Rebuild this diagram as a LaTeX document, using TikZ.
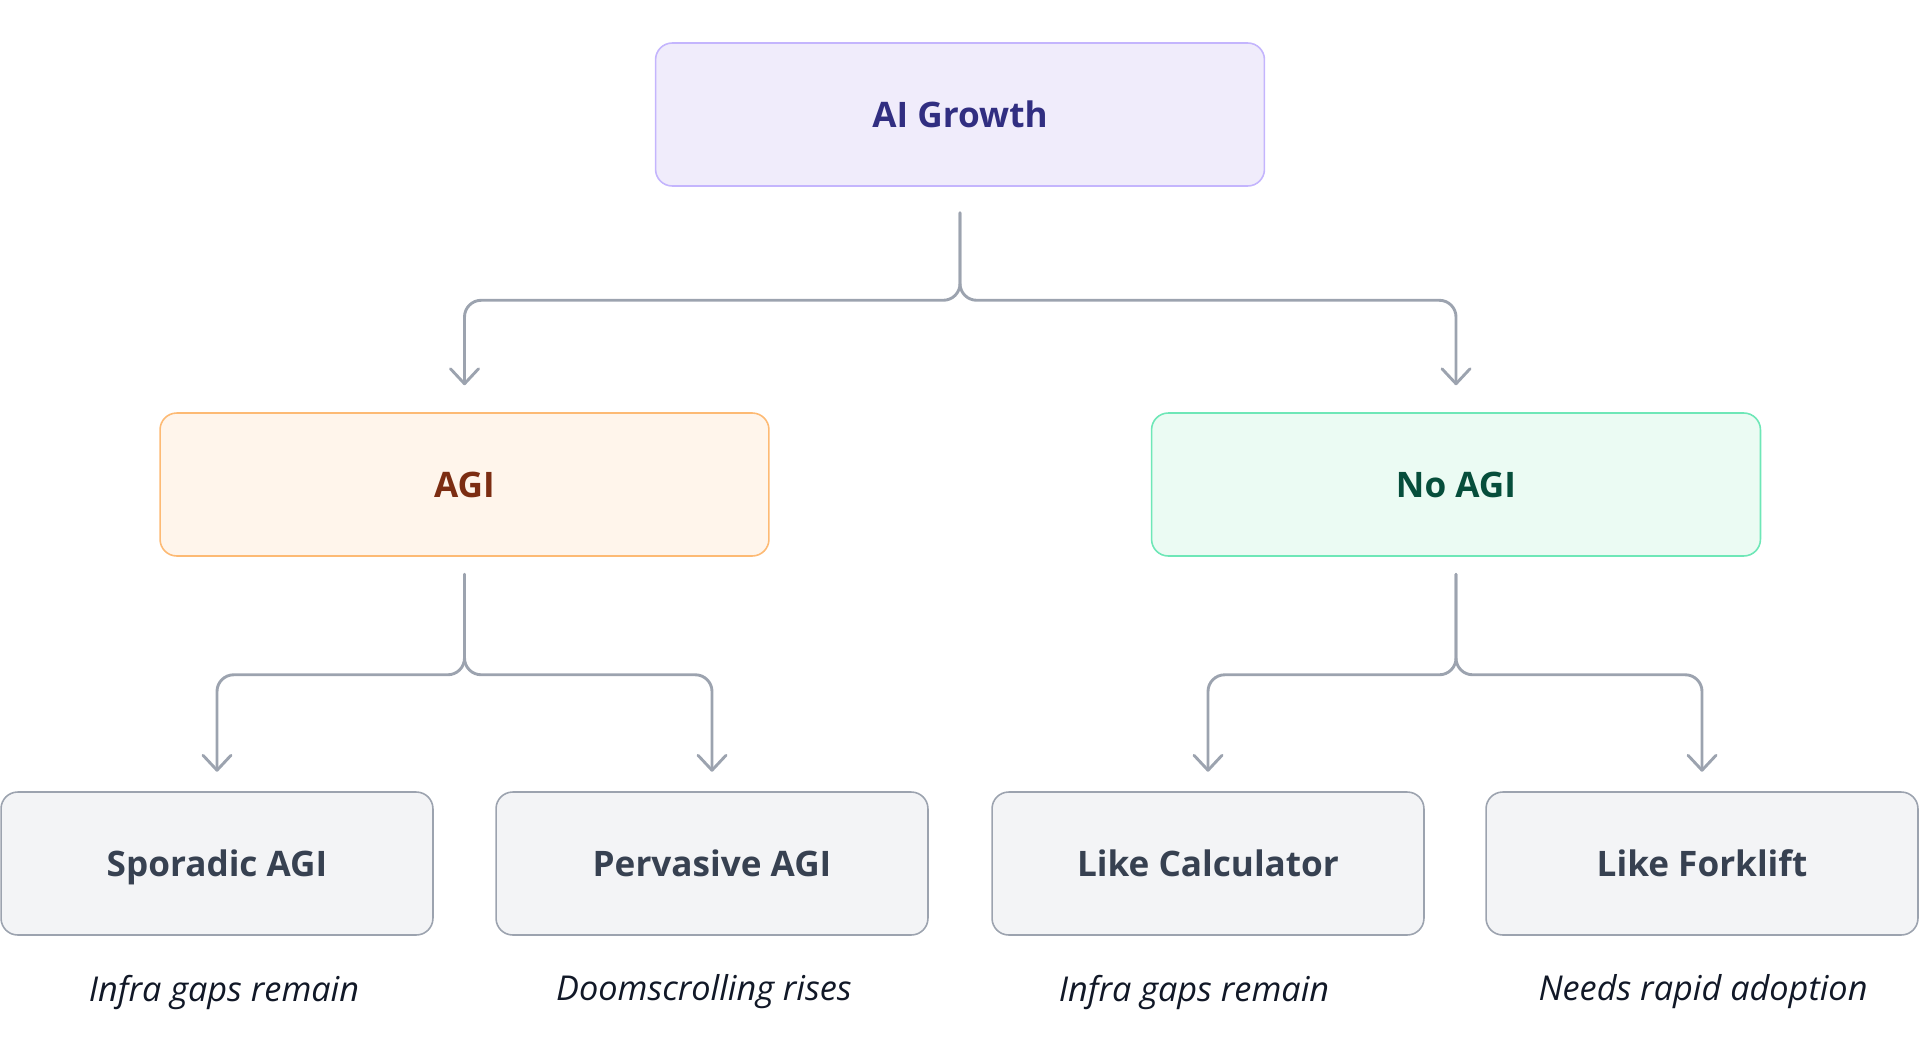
\documentclass[tikz,border=0pt]{standalone}
\usepackage{fontspec}
\setmainfont{Open Sans}
\usetikzlibrary{arrows.meta}

\definecolor{violetfill}{HTML}{F0ECFB}
\definecolor{violetline}{HTML}{C4B5FD}
\definecolor{violettext}{HTML}{312E81}
\definecolor{orangefill}{HTML}{FFF5EB}
\definecolor{orangeline}{HTML}{FDBA74}
\definecolor{orangetext}{HTML}{7C2D12}
\definecolor{greenfill}{HTML}{EBFBF3}
\definecolor{greenline}{HTML}{6EE7B7}
\definecolor{greentext}{HTML}{064E3B}
\definecolor{grayfill}{HTML}{F3F4F6}
\definecolor{grayline}{HTML}{9CA3AF}
\definecolor{graytext}{HTML}{374151}
\definecolor{notetext}{HTML}{111827}

\tikzset{
  box/.style={draw, rounded corners=9.5pt, line width=0.9pt,
    minimum width=12.18cm, minimum height=2.86cm,
    text height=14.3pt, text depth=0pt,
    font=\fontsize{20}{24}\selectfont\bfseries},
  topbox/.style={box, fill=violetfill, draw=violetline, text=violettext},
  agibox/.style={box, fill=orangefill, draw=orangeline, text=orangetext},
  noagibox/.style={box, fill=greenfill, draw=greenline, text=greentext},
  leafbox/.style={box, fill=grayfill, draw=grayline, text=graytext,
    minimum width=8.64cm},
  note/.style={text=notetext, font=\fontsize{19.5}{23}\selectfont\itshape},
  link/.style={draw=grayline, line width=1.65pt, rounded corners=9.5pt,
    line cap=round, -{Straight Barb[length=0.3cm,width=0.56cm,round]}}
}

\begin{document}
\begin{tikzpicture}[
  x=0.02cm,
  y=-0.02cm,
  line join=round
]
  \useasboundingbox (0,0) rectangle (1920,1058);

  % Root
  \node[topbox] (growth) at (960,114.5) {AI Growth};

  % Two branches
  \node[agibox] (agi) at (464.5,484.5) {AGI};
  \node[noagibox] (noagi) at (1456,484.5) {No AGI};

  % Leaves
  \node[leafbox] (sporadic) at (217,863.5) {Sporadic AGI};
  \node[leafbox] (pervasive) at (712,863.5) {Pervasive AGI};
  \node[leafbox] (calculator) at (1208,863.5) {Like Calculator};
  \node[leafbox] (forklift) at (1702,863.5) {Like Forklift};

  % Notes under the leaves
  \node[note] (sporadicnote) at (224,992) {Infra gaps remain};
  \node[note] (pervasivenote) at (704,992) {Doomscrolling rises};
  \node[note] (calculatornote) at (1194,992) {Infra gaps remain};
  \node[note] (forkliftnote) at (1703,992) {Needs rapid adoption};

  % Level 1 arrows
  \draw[link, shorten <=0.52cm, shorten >=0.54cm]
    (growth.south) -- ++(0,113.5) -| (agi.north);
  \draw[link, shorten <=0.52cm, shorten >=0.54cm]
    (growth.south) -- ++(0,113.5) -| (noagi.north);

  % Level 2 arrows
  \draw[link, shorten <=0.35cm, shorten >=0.39cm]
    (agi.south) -- ++(0,118) -| (sporadic.north);
  \draw[link, shorten <=0.35cm, shorten >=0.39cm]
    (agi.south) -- ++(0,118) -| (pervasive.north);
  \draw[link, shorten <=0.35cm, shorten >=0.39cm]
    (noagi.south) -- ++(0,118) -| (calculator.north);
  \draw[link, shorten <=0.35cm, shorten >=0.39cm]
    (noagi.south) -- ++(0,118) -| (forklift.north);
\end{tikzpicture}
\end{document}
